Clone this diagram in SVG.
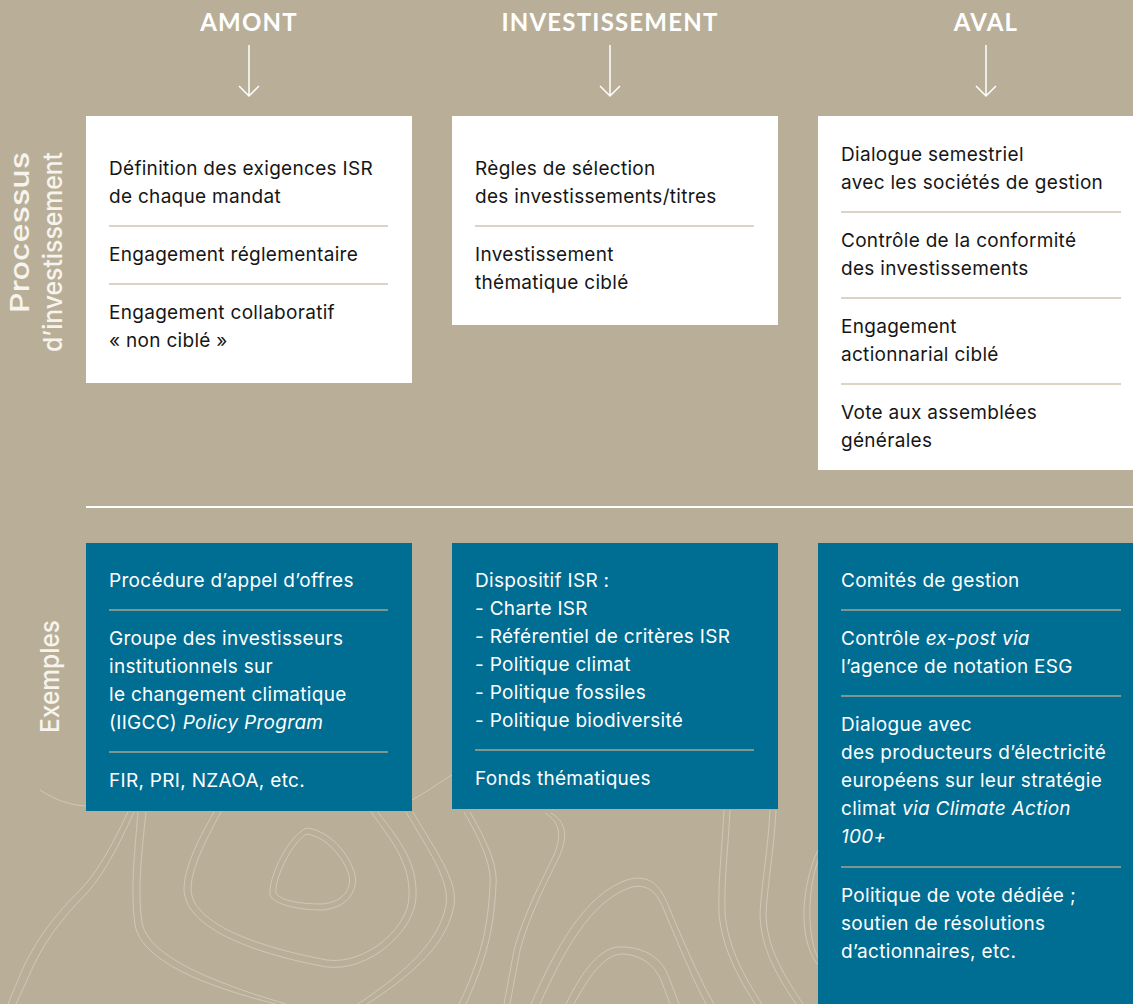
<svg xmlns="http://www.w3.org/2000/svg" width="1133" height="1004" viewBox="0 0 1133 1004">
<defs>
<style>
.bg{fill:#B9AF98}
.wbox{fill:#FFFFFF}
.bbox{fill:#006D92}
.hdr{font-family:"Lato","Liberation Sans",sans-serif;font-weight:700;font-size:24px;fill:#FFFFFF;text-anchor:middle;letter-spacing:1.2px}
.side{font-family:"Inter","Liberation Sans",sans-serif;font-size:26px;font-weight:500;fill:#F7F4EE}
.t{font-family:"Inter","Liberation Sans",sans-serif;font-size:19px;letter-spacing:0.3px;fill:#161616}
.tw{font-family:"Inter","Liberation Sans",sans-serif;font-size:19px;letter-spacing:0.3px;fill:#FFFFFF}
.sepw{stroke:#CFC6B1;stroke-width:1.5}
.sepb{stroke:#A8A58F;stroke-width:1.5}
.arrow{stroke:#FFFFFF;stroke-width:1.5;fill:none}
.topo{stroke:#FFFFFF;stroke-opacity:0.3;stroke-width:1;fill:none}
</style>
</defs>
<rect class="bg" x="0" y="0" width="1133" height="1004"/>

<!-- decorative contour lines -->
<g id="contours">
<path class="topo" d="M128,812 C110,850 95,875 80,890 C55,915 35,940 20,975 L8,1004"/>
<path class="topo" d="M134,812 C116,852 101,878 86,894 C62,918 42,944 28,978 L16,1004"/>
<path class="topo" d="M138,812 C135,850 130,890 135,925 C142,960 200,985 276,1004"/>
<path class="topo" d="M146,812 C142,850 137,890 142,923 C149,955 205,980 286,1004"/>
<path class="topo" d="M413,812 C435,850 458,880 454,905 C448,940 420,970 367,1004"/>
<path class="topo" d="M406,812 C428,850 450,880 446,905 C440,938 412,968 358,1004"/>
<path class="topo" d="M214,812 C195,845 184,870 184,890 C186,930 260,955 327,967 C370,972 415,930 416,897 C418,860 395,835 378,812"/>
<path class="topo" d="M221,812 C203,845 191,870 191,890 C193,925 262,948 327,960 C366,965 408,928 409,897 C411,862 388,836 371,812"/>
<path class="topo" d="M306,828 C285,840 268,880 270,895 C274,905 300,910 322,910 C348,908 358,890 355,875 C350,855 330,830 306,828 Z"/>
<path class="topo" d="M306,834 C289,846 274,882 276,893 C280,901 302,904 322,904 C344,902 352,888 349,875 C344,858 326,836 306,834 Z"/>
<path class="topo" d="M464,812 C480,840 492,865 490,885 C488,930 480,960 459,1004"/>
<path class="topo" d="M470,812 C486,840 498,865 496,885 C494,930 486,960 466,1004"/>
<path class="topo" d="M551,813 C566,822 568,835 560,855 C548,880 530,913 520,950 L510,1004"/>
<path class="topo" d="M545,813 C560,822 562,835 554,855 C542,880 524,913 514,950 L504,1004"/>
<path class="topo" d="M531,1004 C555,950 585,892 630,879 C650,875 660,885 668,905 C685,945 700,980 714,1004"/>
<path class="topo" d="M540,1004 C562,955 590,900 632,887 C648,884 657,892 664,910 C680,948 694,982 706,1004"/>
<path class="topo" d="M566,1004 C580,975 600,945 622,947 C640,947 660,955 668,975 L679,1004"/>
<path class="topo" d="M574,1004 C588,978 605,953 623,954 C638,955 653,962 661,980 L670,1004"/>
<path class="topo" d="M724,810 C722,850 718,880 719,913 C722,950 740,980 755,1004"/>
<path class="topo" d="M730,810 C728,850 724,880 725,913 C728,948 745,978 762,1004"/>
<path class="topo" d="M770,810 C768,850 762,880 760,913 C760,950 780,980 796,1004"/>
<path class="topo" d="M776,810 C774,850 768,880 766,913 C766,948 786,978 803,1004"/>
<path class="topo" d="M818,850 C808,870 803,900 804,920 C805,940 810,955 818,965"/>
<path class="topo" d="M818,860 C812,878 809,900 810,920 C811,938 814,950 818,958"/>
<path class="topo" d="M40,790 C55,800 70,805 86,806"/>
<path class="topo" d="M412,800 C430,790 440,782 452,775"/>
</g>

<!-- column headers -->
<g id="header-amont">
<text class="hdr" x="249" y="31">AMONT</text>
</g>
<g id="header-investissement">
<text class="hdr" x="610" y="31">INVESTISSEMENT</text>
</g>
<g id="header-aval">
<text class="hdr" x="986" y="31">AVAL</text>
</g>

<g id="connectors">
<path class="arrow" d="M249,45 V96 M239,86 L249,96 L259,86"/>
<path class="arrow" d="M610,45 V96 M600,86 L610,96 L620,86"/>
<path class="arrow" d="M986,45 V96 M976,86 L986,96 L996,86"/>
</g>

<!-- row labels -->
<g id="label-processus">
<text class="side" transform="translate(29,313) rotate(-90)" textLength="161" lengthAdjust="spacingAndGlyphs">Processus</text>
<text class="side" transform="translate(62,352) rotate(-90)" textLength="200" lengthAdjust="spacingAndGlyphs">d’investissement</text>
</g>
<g id="label-exemples">
<text class="side" transform="translate(59,733) rotate(-90)" textLength="113" lengthAdjust="spacingAndGlyphs">Exemples</text>
</g>

<!-- divider -->
<g id="divider">
<rect x="86" y="506" width="1047" height="2" fill="#FFFFFF"/>
</g>

<!-- process boxes -->
<g id="process-amont">
<rect class="wbox" x="86" y="116" width="326" height="267"/>
<text class="t" x="109" y="175">Définition des exigences ISR</text>
<text class="t" x="109" y="203">de chaque mandat</text>
<line class="sepw" x1="109" y1="226" x2="388" y2="226"/>
<text class="t" x="109" y="261">Engagement réglementaire</text>
<line class="sepw" x1="109" y1="284" x2="388" y2="284"/>
<text class="t" x="109" y="319">Engagement collaboratif</text>
<text class="t" x="109" y="347">« non ciblé »</text>
</g>

<g id="process-investissement">
<rect class="wbox" x="452" y="116" width="326" height="209"/>
<text class="t" x="475" y="175">Règles de sélection</text>
<text class="t" x="475" y="203">des investissements/titres</text>
<line class="sepw" x1="475" y1="226" x2="754" y2="226"/>
<text class="t" x="475" y="261">Investissement</text>
<text class="t" x="475" y="289">thématique ciblé</text>
</g>

<g id="process-aval">
<rect class="wbox" x="818" y="116" width="315" height="354"/>
<text class="t" x="841" y="161">Dialogue semestriel</text>
<text class="t" x="841" y="189">avec les sociétés de gestion</text>
<line class="sepw" x1="841" y1="212" x2="1121" y2="212"/>
<text class="t" x="841" y="247">Contrôle de la conformité</text>
<text class="t" x="841" y="275">des investissements</text>
<line class="sepw" x1="841" y1="298" x2="1121" y2="298"/>
<text class="t" x="841" y="333">Engagement</text>
<text class="t" x="841" y="361">actionnarial ciblé</text>
<line class="sepw" x1="841" y1="384" x2="1121" y2="384"/>
<text class="t" x="841" y="419">Vote aux assemblées</text>
<text class="t" x="841" y="447">générales</text>
</g>

<!-- example boxes -->
<g id="exemples-amont">
<rect class="bbox" x="86" y="543" width="326" height="268"/>
<text class="tw" x="109" y="587">Procédure d’appel d’offres</text>
<line class="sepb" x1="109" y1="610" x2="388" y2="610"/>
<text class="tw" x="109" y="645">Groupe des investisseurs</text>
<text class="tw" x="109" y="673">institutionnels sur</text>
<text class="tw" x="109" y="701">le changement climatique</text>
<text class="tw" x="109" y="729">(IIGCC) <tspan font-style="italic">Policy Program</tspan></text>
<line class="sepb" x1="109" y1="752" x2="388" y2="752"/>
<text class="tw" x="109" y="787">FIR, PRI, NZAOA, etc.</text>
</g>

<g id="exemples-investissement">
<rect class="bbox" x="452" y="543" width="326" height="266"/>
<text class="tw" x="475" y="587">Dispositif ISR :</text>
<text class="tw" x="475" y="615">- Charte ISR</text>
<text class="tw" x="475" y="643">- Référentiel de critères ISR</text>
<text class="tw" x="475" y="671">- Politique climat</text>
<text class="tw" x="475" y="699">- Politique fossiles</text>
<text class="tw" x="475" y="727">- Politique biodiversité</text>
<line class="sepb" x1="475" y1="750" x2="754" y2="750"/>
<text class="tw" x="475" y="785">Fonds thématiques</text>
</g>

<g id="exemples-aval">
<rect class="bbox" x="818" y="543" width="315" height="461"/>
<text class="tw" x="841" y="587">Comités de gestion</text>
<line class="sepb" x1="841" y1="610" x2="1121" y2="610"/>
<text class="tw" x="841" y="645">Contrôle <tspan font-style="italic">ex-post via</tspan></text>
<text class="tw" x="841" y="673">l’agence de notation ESG</text>
<line class="sepb" x1="841" y1="696" x2="1121" y2="696"/>
<text class="tw" x="841" y="731">Dialogue avec</text>
<text class="tw" x="841" y="759">des producteurs d’électricité</text>
<text class="tw" x="841" y="787">européens sur leur stratégie</text>
<text class="tw" x="841" y="815">climat <tspan font-style="italic">via Climate Action</tspan></text>
<text class="tw" x="841" y="843" font-style="italic">100+</text>
<line class="sepb" x1="841" y1="867" x2="1121" y2="867"/>
<text class="tw" x="841" y="902">Politique de vote dédiée ;</text>
<text class="tw" x="841" y="930">soutien de résolutions</text>
<text class="tw" x="841" y="958">d’actionnaires, etc.</text>
</g>
</svg>
